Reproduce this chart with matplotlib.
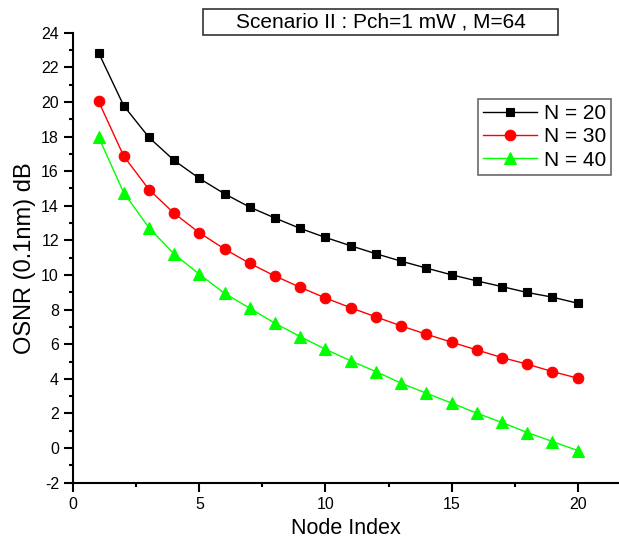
import matplotlib
matplotlib.use("Agg")
import matplotlib.pyplot as plt
from matplotlib.ticker import MultipleLocator
from matplotlib.patches import Rectangle

plt.rcParams['font.family'] = ['Liberation Sans', 'DejaVu Sans']
plt.rcParams['axes.unicode_minus'] = False

node_index = list(range(1, 21))
osnr_n20 = [22.85, 19.78, 17.95, 16.62, 15.58, 14.69, 13.92, 13.29, 12.69, 12.17,
            11.69, 11.23, 10.80, 10.40, 10.01, 9.66, 9.33, 8.99, 8.72, 8.37]
osnr_n30 = [20.04, 16.87, 14.94, 13.56, 12.44, 11.50, 10.67, 9.94, 9.29, 8.67,
            8.11, 7.58, 7.06, 6.58, 6.12, 5.67, 5.23, 4.85, 4.42, 4.04]
osnr_n40 = [17.98, 14.75, 12.73, 11.21, 10.04, 8.94, 8.08, 7.21, 6.44, 5.71,
            5.04, 4.42, 3.75, 3.17, 2.60, 2.02, 1.48, 0.90, 0.38, -0.14]
series_labels = ['N = 20', 'N = 30', 'N = 40']
title_text = 'Scenario II : Pch=1 mW , M=64'

W, H = 619, 540
fig = plt.figure(figsize=(W / 100, H / 100), dpi=100)
ax = fig.add_axes([73.3 / W, 57.3 / H, (W - 73.3) / W, 450 / H])

green = '#00ff00'
ax.plot(node_index, osnr_n20, color='black', lw=1, marker='s', ms=6.3,
        mfc='black', mec='black', mew=0.8, label=series_labels[0])
ax.plot(node_index, osnr_n30, color='red', lw=1, marker='o', ms=7.6,
        mfc='red', mec='red', mew=0.8, label=series_labels[1])
ax.plot(node_index, osnr_n40, color=green, lw=1, marker='^', ms=8.6,
        mfc=green, mec=green, mew=0.8, label=series_labels[2])

ax.set_xlim(0, 21.64)
ax.set_ylim(-2, 24)
ax.set_xticks([0, 5, 10, 15, 20])
ax.set_xticks([2.5, 7.5, 12.5, 17.5], minor=True)
ax.yaxis.set_major_locator(MultipleLocator(2))
ax.yaxis.set_minor_locator(MultipleLocator(1))

for side in ('top', 'right'):
    ax.spines[side].set_visible(False)
for side in ('left', 'bottom'):
    ax.spines[side].set_linewidth(1.5)

ax.tick_params(which='major', direction='out', length=6.3, width=1.5,
               labelsize=11.5, pad=4)
ax.tick_params(which='minor', direction='out', length=3.2, width=1.5)

ax.set_xlabel('Node Index', fontsize=15.5, labelpad=4)
ax.set_ylabel('OSNR (0.1nm) dB', fontsize=17, labelpad=4)

# legend box in the upper right of the plot area
leg_left = (478 - 73.3) / (W - 73.3)
leg_top = ((H - 99) / H - 57.3 / H) / (450 / H)
leg = ax.legend(loc='upper left', bbox_to_anchor=(leg_left, leg_top), fontsize=15,
                frameon=True, fancybox=False, edgecolor='#444444',
                handlelength=2.6, handletextpad=0.3, borderpad=0.25,
                labelspacing=0.2, borderaxespad=0)
leg.get_frame().set_linewidth(1.2)

# framed title box above the plot
fig.patches.append(Rectangle((203 / W, 1 - 34.7 / H), (558 - 203) / W, 25.4 / H,
                             transform=fig.transFigure, fc='white', ec='#333333',
                             lw=1.2))
fig.text((203 + 558) / 2 / W, 1 - 22 / H, title_text, ha='center', va='center',
         fontsize=15)

fig.savefig('out.png', dpi=100)
